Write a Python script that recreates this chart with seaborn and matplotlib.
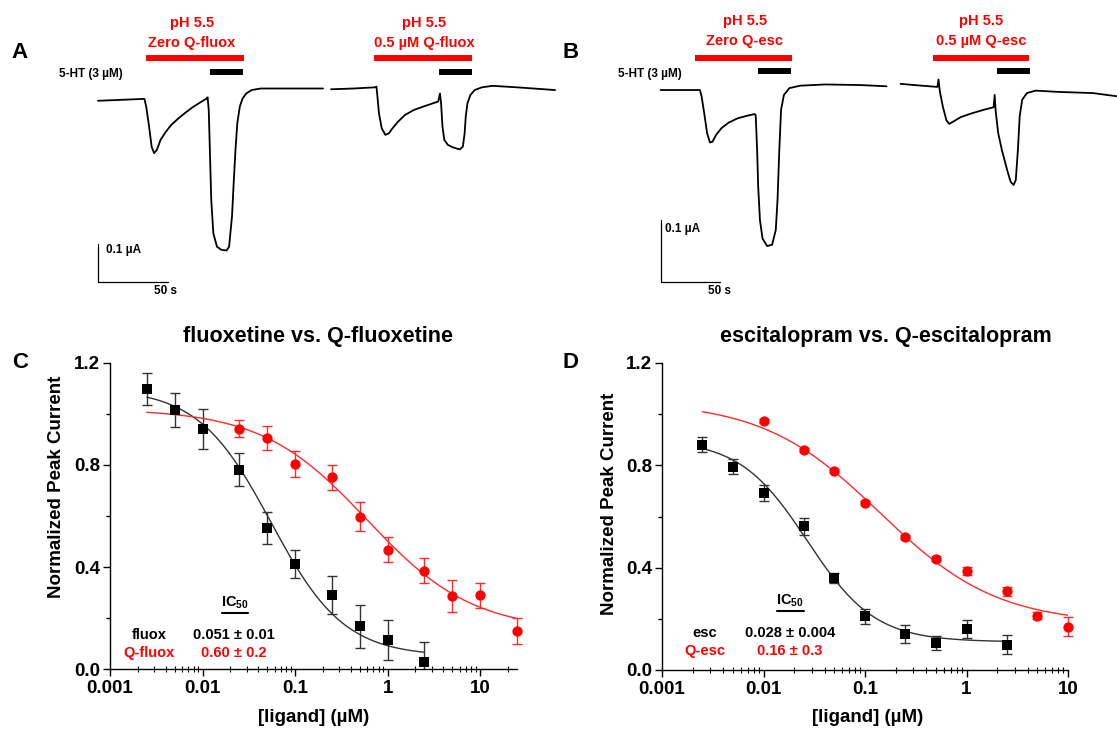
import numpy as np
import matplotlib
matplotlib.use('Agg')
import matplotlib.pyplot as plt
import seaborn as sns
from matplotlib.lines import Line2D
from matplotlib.patches import Rectangle
from matplotlib.ticker import FuncFormatter, MultipleLocator, LogLocator, NullFormatter


# --------------------------------------------------------
#       DATA
# --------------------------------------------------------

# panel A : currents (uA) vs time (s), each trace has its own time origin
A1_T = [0, 14.1, 33.3, 34.6, 36.7, 38.5, 40.3, 42.3, 44.9, 48.7, 52.6, 57.7, 62.8, 67.9, 73.1, 77.7,
        78.7, 79.5, 80.3, 81.3, 82.8, 85.4, 88.5, 92.3, 94.1, 96.2, 97.4, 98.7, 100.0, 101.8, 103.8,
        106.4, 110.3, 116.7, 134.6, 161.5]
A1_I = [-0.002, 0, 0.003, -0.017, -0.070, -0.122, -0.139, -0.130, -0.104, -0.083, -0.065, -0.048,
        -0.033, -0.019, -0.007, 0.003, 0.007, -0.026, -0.130, -0.261, -0.348, -0.383, -0.391, -0.393,
        -0.383, -0.304, -0.217, -0.130, -0.061, -0.017, 0.004, 0.017, 0.026, 0.030, 0.030, 0.030]
A2_T = [0, 15.9, 31.3, 32.6, 33.3, 34.4, 36.4, 39.0, 41.5, 44.1, 48.0, 53.1, 59.5, 67.2, 76.9, 78.2,
        79.0, 80.0, 81.3, 83.8, 87.7, 92.3, 94.6, 95.9, 96.7, 97.9, 100.0, 103.1, 108.2, 115.9, 133.8, 160.8]
A2_I = [0.028, 0.030, 0.033, 0.035, 0.009, -0.035, -0.074, -0.091, -0.087, -0.074, -0.057, -0.039,
        -0.026, -0.016, -0.004, 0.017, -0.009, -0.070, -0.104, -0.117, -0.124, -0.129, -0.122, -0.087,
        -0.043, -0.009, 0.013, 0.026, 0.033, 0.037, 0.033, 0.026]
A_PH = [(34.5, 104.8), (30.9, 101.2)]      # pH 5.5 application (s)
A_HT = [(80.4, 104.1), (77.2, 101.2)]      # 5-HT application (s)
A_LABELS = ["Zero Q-fluox", "0.5 µM Q-fluox"]

# panel B
B1_T = [0, 18.2, 33.3, 34.8, 37.0, 39.4, 41.8, 43.9, 47.0, 51.5, 57.6, 65.2, 72.7, 79.7, 80.6, 81.8,
        82.7, 84.2, 86.4, 90.3, 94.5, 97.6, 99.1, 100.6, 102.1, 104.5, 109.1, 118.2, 139.4, 169.7, 191.5]
B1_I = [0, 0, 0, -0.011, -0.038, -0.070, -0.085, -0.084, -0.073, -0.062, -0.053, -0.046, -0.042,
        -0.039, -0.041, -0.097, -0.157, -0.211, -0.241, -0.253, -0.251, -0.227, -0.178, -0.097, -0.032,
        -0.008, 0.003, 0.007, 0.009, 0.008, 0.006]
B2_T = [0, 11.5, 31.2, 32.1, 33.3, 35.8, 38.8, 41.2, 44.8, 50.9, 60.0, 70.6, 78.8, 79.7, 80.6, 82.7,
        85.8, 90.3, 93.3, 95.8, 97.6, 99.4, 100.9, 103.0, 107.0, 114.5, 132.7, 163.0, 182.7]
B2_I = [0.010, 0.008, 0.005, 0.017, -0.003, -0.027, -0.049, -0.055, -0.051, -0.044, -0.038, -0.032,
        -0.028, -0.008, -0.035, -0.070, -0.097, -0.130, -0.149, -0.154, -0.146, -0.097, -0.043, -0.016,
        -0.005, -0.001, -0.003, -0.005, -0.010]
B_PH = [(29.2, 111.4), (27.5, 109.2)]
B_HT = [(82.5, 110.2), (81.7, 109.7)]
B_LABELS = ["Zero Q-esc", "0.5 µM Q-esc"]

SCALE_T = 50     # s
SCALE_I = 0.1    # uA

# panel C : fluoxetine vs Q-fluoxetine
FLUOX_X = [0.0025, 0.005, 0.01, 0.025, 0.05, 0.1, 0.25, 0.5, 1, 2.5]
FLUOX_Y = [1.099, 1.016, 0.942, 0.782, 0.553, 0.412, 0.291, 0.167, 0.115, 0.026]
FLUOX_E = [0.062, 0.067, 0.078, 0.064, 0.063, 0.056, 0.075, 0.085, 0.079, 0.080]
QFLUOX_X = [0.025, 0.05, 0.1, 0.25, 0.5, 1, 2.5, 5, 10, 25]
QFLUOX_Y = [0.943, 0.905, 0.804, 0.751, 0.598, 0.468, 0.386, 0.285, 0.289, 0.148]
QFLUOX_E = [0.035, 0.046, 0.051, 0.049, 0.056, 0.050, 0.049, 0.063, 0.050, 0.051]
# Hill fits: top, bottom, IC50, slope
FLUOX_FIT = (1.10, 0.05, 0.055, 1.1)
QFLUOX_FIT = (1.02, 0.15, 0.60, 0.76)

# panel D : escitalopram vs Q-escitalopram
ESC_X = [0.0025, 0.005, 0.01, 0.025, 0.05, 0.1, 0.25, 0.5, 1, 2.5]
ESC_Y = [0.881, 0.795, 0.692, 0.561, 0.359, 0.210, 0.141, 0.105, 0.159, 0.099]
ESC_E = [0.030, 0.030, 0.030, 0.033, 0.020, 0.030, 0.035, 0.028, 0.035, 0.037]
QESC_X = [0.01, 0.025, 0.05, 0.1, 0.25, 0.5, 1, 2.5, 5, 10]
QESC_Y = [0.974, 0.860, 0.779, 0.654, 0.519, 0.435, 0.387, 0.308, 0.213, 0.170]
QESC_E = [0.008, 0.008, 0.008, 0.008, 0.008, 0.010, 0.015, 0.018, 0.012, 0.037]
ESC_FIT = (0.90, 0.11, 0.027, 1.3)
QESC_FIT = (1.05, 0.18, 0.14, 0.75)
FIT_START = 0.0025

IC50_TXT = {'C': [("fluox", "0.051 ± 0.01"), ("Q-fluox", "0.60 ± 0.2")],
            'D': [("esc", "0.028 ± 0.004"), ("Q-esc", "0.16 ± 0.3")]}


# --------------------------------------------------------
#       STYLE / LAYOUT HELPERS
# --------------------------------------------------------

sns.set_theme(style='ticks')
plt.rcParams['font.family'] = ['Liberation Sans', 'DejaVu Sans']
plt.rcParams['font.weight'] = 'bold'
plt.rcParams['text.color'] = 'black'
plt.rcParams['axes.labelcolor'] = 'black'
plt.rcParams['mathtext.fontset'] = 'custom'
plt.rcParams['mathtext.rm'] = 'Liberation Sans:bold'
plt.rcParams['mathtext.it'] = 'Liberation Sans:bold'
plt.rcParams['mathtext.bf'] = 'Liberation Sans:bold'

RED = '#ff0000'
W, H = 1117, 730
fig = plt.figure(figsize=(W / 100, H / 100), dpi=100)


def px_axes(x0, y0, x1, y1):
    return fig.add_axes([x0 / W, 1 - y1 / H, (x1 - x0) / W, (y1 - y0) / H])


def px_text(x, y, s, **kw):
    kw.setdefault('ha', 'center')
    kw.setdefault('va', 'center')
    kw.setdefault('color', 'black')
    fig.text(x / W, 1 - y / H, s, **kw)


def px_line(x0, x1, y, lw=1.5):
    fig.add_artist(Line2D([x0 / W, x1 / W], [1 - y / H, 1 - y / H], transform=fig.transFigure,
                          color='black', lw=lw))


def hill(x, fit):
    top, bottom, ic50, n = fit
    return bottom + (top - bottom) / (1 + (x / ic50) ** n)


# --------------------------------------------------------
#       PANELS
# --------------------------------------------------------

def trace_panel(rect, lay, traces, ph, ht):
    """ current traces with application bars and scale bar """
    x0, y0, x1, y1 = rect
    ax = px_axes(*rect)
    ax.set_xlim((x0 - lay['x0']) / lay['px_s'], (x1 - lay['x0']) / lay['px_s'])
    ax.set_ylim((lay['y0'] - y1) / lay['px_ua'], (lay['y0'] - y0) / lay['px_ua'])
    ax.set_axis_off()

    def to_ua(ypx):
        return (lay['y0'] - ypx) / lay['px_ua']

    for k, (t, cur) in enumerate(traces):
        off = k * lay['gap_s']
        sns.lineplot(x=np.array(t) + off, y=cur, ax=ax, sort=False, estimator=None,
                     color='black', lw=1.3)
        ax.hlines(to_ua(58), ph[k][0] + off, ph[k][1] + off, color=RED, lw=4.3)
        ax.hlines(to_ua(lay['blk_y']), ht[k][0] + off, ht[k][1] + off, color='black', lw=4.3)

    # scale bar
    yb = to_ua(282)
    ax.plot([0, 0, SCALE_T], [yb + SCALE_I, yb, yb], color='black', lw=0.9)
    return ax


def dose_panel(rect, xmax, series):
    """ concentration-response curves """
    ax = px_axes(*rect)
    ax.set_xscale('log')
    clip = Rectangle((-0.05, 0), 1.1, 1.2, transform=ax.transAxes)

    for conc, mean, err, fit, color, ecolor, marker in series:
        xs = np.logspace(np.log10(FIT_START), np.log10(conc[-1]), 300)
        sns.lineplot(x=xs, y=hill(xs, fit), ax=ax, color=ecolor, lw=1.0, estimator=None)
        eb = ax.errorbar(conc, mean, yerr=err, fmt='none', ecolor=ecolor, elinewidth=1.0,
                         capsize=3.5, capthick=1.0)
        for art in list(eb.lines[1]) + list(eb.lines[2]):
            art.set_clip_path(clip)
        sns.scatterplot(x=conc, y=mean, ax=ax, marker=marker, s=55, color=color,
                        edgecolor=color, linewidth=0, clip_on=False, zorder=5)

    ax.set_xlim(0.001, xmax)
    ax.set_ylim(0, 1.2)
    sns.despine(ax=ax)
    for sp in ('left', 'bottom'):
        ax.spines[sp].set_linewidth(1.0)
        ax.spines[sp].set_color('black')

    ax.yaxis.set_major_locator(MultipleLocator(0.4))
    ax.yaxis.set_minor_locator(MultipleLocator(0.2))
    ax.yaxis.set_major_formatter(FuncFormatter(lambda v, p: f'{v:.1f}'))
    ax.xaxis.set_major_locator(LogLocator(base=10, numticks=10))
    ax.xaxis.set_minor_locator(LogLocator(base=10, subs=np.arange(2, 10), numticks=20))
    ax.xaxis.set_minor_formatter(NullFormatter())
    ax.xaxis.set_major_formatter(FuncFormatter(lambda v, p: f'{v:g}'))

    ax.tick_params(axis='both', which='major', direction='out', length=5, width=1.0,
                   labelsize=13.5, colors='black')
    ax.tick_params(axis='x', which='major', pad=3)
    ax.tick_params(axis='y', which='major', pad=2)
    ax.tick_params(axis='x', which='minor', direction='inout', length=4, width=0.8, colors='black')
    ax.tick_params(axis='y', which='minor', direction='out', length=3, width=1.0, colors='black')
    ax.set_xlabel('')
    ax.set_ylabel('')
    return ax


# ---- A ----
trace_panel((0, 0, 557, 300),
            dict(x0=98, px_s=1.393, y0=100, px_ua=383, gap_s=167.3, blk_y=72),
            [(A1_T, A1_I), (A2_T, A2_I)], A_PH, A_HT)
px_text(20, 53, "A", fontsize=16)
px_text(91, 74, "5-HT (3 µM)", fontsize=8.5)
for cx, lab in zip((192, 424), A_LABELS):
    px_text(cx, 23, "pH 5.5", fontsize=10.5, color=RED)
    px_text(cx, 43, lab, fontsize=10.5, color=RED)
px_text(106, 250, "0.1 µA", fontsize=8.5, ha='left')
px_text(166, 291, "50 s", fontsize=8.5)

# ---- B ----
trace_panel((557, 0, 1117, 300),
            dict(x0=660.6, px_s=1.18, y0=90, px_ua=616.7, gap_s=203.4, blk_y=71),
            [(B1_T, B1_I), (B2_T, B2_I)], B_PH, B_HT)
px_text(571, 52, "B", fontsize=16)
px_text(650, 74, "5-HT (3 µM)", fontsize=8.5)
for cx, lab in zip((745, 981), B_LABELS):
    px_text(cx, 21, "pH 5.5", fontsize=10.5, color=RED)
    px_text(cx, 41, lab, fontsize=10.5, color=RED)
px_text(665, 229, "0.1 µA", fontsize=8.5, ha='left')
px_text(720, 291, "50 s", fontsize=8.5)

# ---- C ----
dose_panel((110, 363, 517, 669), 25,
           [(FLUOX_X, FLUOX_Y, FLUOX_E, FLUOX_FIT, 'black', '#333333', 's'),
            (QFLUOX_X, QFLUOX_Y, QFLUOX_E, QFLUOX_FIT, RED, '#ff2a2a', 'o')])
px_text(20, 362, "C", fontsize=16)
px_text(318, 337, "fluoxetine vs. Q-fluoxetine", fontsize=15.5)
px_text(57, 487, "Normalized Peak Current", fontsize=13.5, rotation=90)
px_text(314, 717, "[ligand] (µM)", fontsize=13.5)
px_text(235, 603, r"IC$_{50}$", fontsize=10.5)
px_line(222, 248, 613)
for (name, val), y, c in zip(IC50_TXT['C'], (635, 653), ('black', RED)):
    px_text(149, y, name, fontsize=10.5, color=c)
    px_text(234, y, val, fontsize=10.5, color=c)

# ---- D ----
dose_panel((662, 363, 1068, 670), 10,
           [(ESC_X, ESC_Y, ESC_E, ESC_FIT, 'black', '#333333', 's'),
            (QESC_X, QESC_Y, QESC_E, QESC_FIT, RED, '#ff2a2a', 'o')])
px_text(571, 362, "D", fontsize=16)
px_text(886, 337, "escitalopram vs. Q-escitalopram", fontsize=15.5)
px_text(609, 504, "Normalized Peak Current", fontsize=13.5, rotation=90)
px_text(868, 717, "[ligand] (µM)", fontsize=13.5)
px_text(790, 601, r"IC$_{50}$", fontsize=10.5)
px_line(777, 804, 611)
for (name, val), y, c in zip(IC50_TXT['D'], (633, 651), ('black', RED)):
    px_text(705, y, name, fontsize=10.5, color=c)
    px_text(790, y, val, fontsize=10.5, color=c)

fig.savefig("out.png", dpi=100)
